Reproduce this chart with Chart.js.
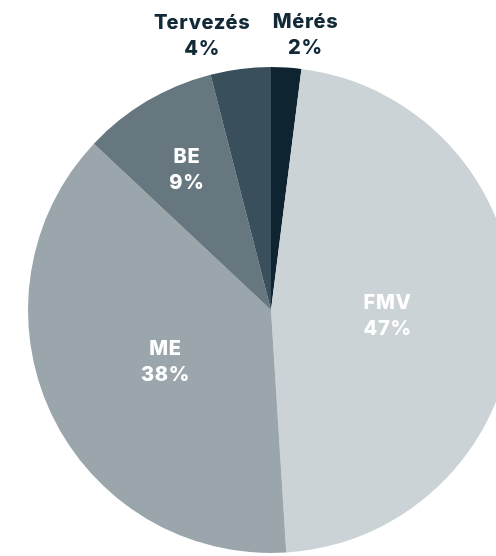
<!DOCTYPE html>
<html>
<head>
<meta charset="utf-8">
<script src="https://cdn.jsdelivr.net/npm/chart.js@4/dist/chart.umd.min.js"></script>
<style>
    html, body { margin: 0; padding: 0; background: #fff; overflow: hidden; }
    #wrap { width: 496px; height: 556px; overflow: hidden; }
</style>
</head>
<body>
<div id="wrap"><canvas id="pieChart" width="542" height="556"></canvas></div>
<script>
const labels = ["Mérés", "FMV", "ME", "BE", "Tervezés"];
const values = [2, 47, 38, 9, 4];
const colors = ["#0f2431", "#cbd3d7", "#9aa6ab", "#67777f", "#394f5b"];

// labels: inside (white) for big slices, above the pie (dark) for tiny ones
const sliceLabels = {
    id: "sliceLabels",
    afterDatasetsDraw(chart) {
        const ctx = chart.ctx;
        const meta = chart.getDatasetMeta(0);
        ctx.save();
        ctx.font = "800 20px Inter, sans-serif";
        ctx.letterSpacing = "0.7px";
        ctx.textAlign = "center";
        ctx.textBaseline = "alphabetic";
        meta.data.forEach((arc, i) => {
            const p = arc.getProps(["x", "y", "startAngle", "endAngle", "outerRadius"], true);
            const mid = (p.startAngle + p.endAngle) / 2;
            const v = values[i];
            let x, y, color;
            if (v < 5) {
                x = p.x + Math.cos(mid) * p.outerRadius * 2.26;
                y = p.y + Math.sin(mid) * (p.outerRadius + 35);
                color = "#122937";
            } else {
                const f = v < 10 ? 0.68 : 0.48;
                x = p.x + Math.cos(mid) * p.outerRadius * f;
                y = p.y + Math.sin(mid) * p.outerRadius * f;
                color = "#ffffff";
            }
            ctx.fillStyle = color;
            ctx.fillText(labels[i], x, y - 5);
            ctx.fillText(v + "%", x, y + 21);
        });
        ctx.restore();
    }
};

document.addEventListener("DOMContentLoaded", () => {
    new Chart(document.getElementById("pieChart"), {
        type: "pie",
        data: {
            labels: labels,
            datasets: [{
                data: values,
                backgroundColor: colors,
                borderWidth: 0,
            }],
        },
        options: {
            responsive: false,
            animation: false,
            layout: { padding: { left: 28, right: 28, top: 67, bottom: 3 } },
            plugins: {
                legend: { display: false },
                tooltip: { enabled: false },
            },
        },
        plugins: [sliceLabels],
    });
});
</script>
</body>
</html>
